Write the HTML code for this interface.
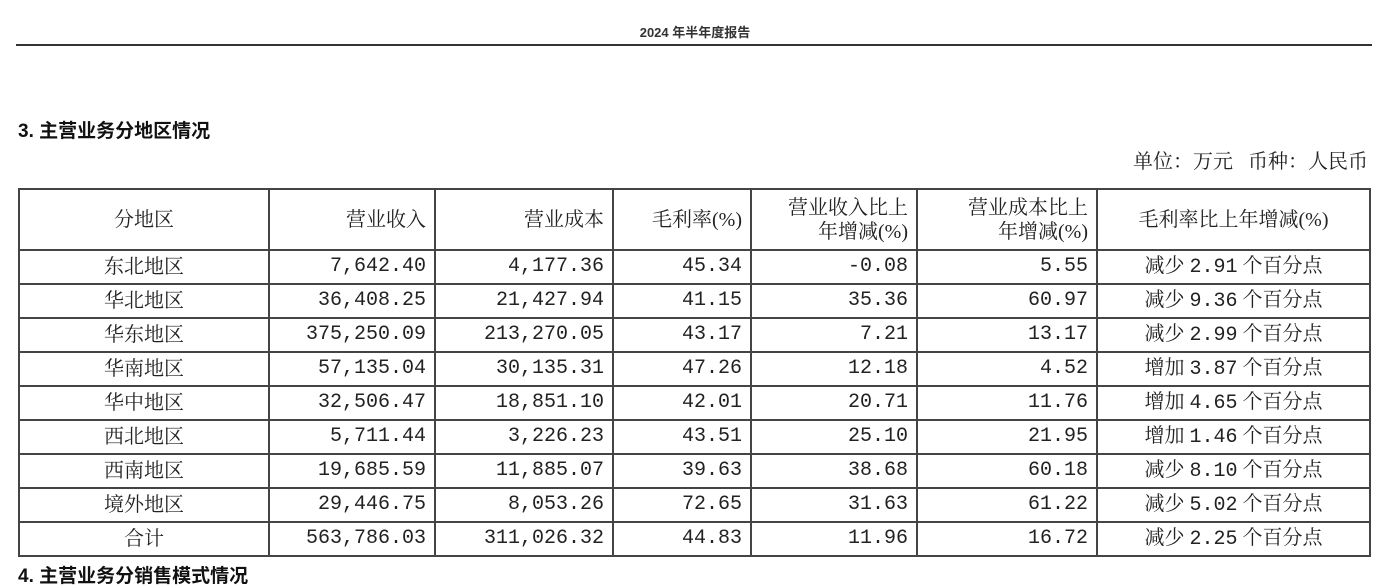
<!DOCTYPE html>
<html><head><meta charset="utf-8"><style>
body{margin:0;width:1399px;height:572px;overflow:hidden;background:#fff;position:relative;font-family:"Liberation Serif","Noto Serif CJK SC",serif;color:#222}
.hd{position:absolute;top:22px;left:0;width:1390px;text-align:center;font:bold 13px "Liberation Sans","Noto Sans CJK SC",sans-serif;color:#333}
.rule{position:absolute;left:16px;top:44px;width:1356px;height:2px;background:#333}
.sec{position:absolute;left:18px;top:116px;font:bold 19px "Liberation Sans","Noto Sans CJK SC",sans-serif;color:#111}
.sec2{position:absolute;left:18px;top:561px;font:bold 19px "Liberation Sans","Noto Sans CJK SC",sans-serif;color:#111}
.unit{position:absolute;right:31px;top:145px;font-size:20px}
table{position:absolute;left:18px;top:188px;border-collapse:collapse;table-layout:fixed}
td{border:2px solid #444;font-size:20px;padding:0 8px;height:32px;white-space:nowrap;line-height:24px}
td.n{text-align:right;font-family:"Liberation Mono","Noto Serif CJK SC",monospace;font-size:20px}
td.c{text-align:center}
tr.h td{height:59px;font-size:20px}
.m{font-family:"Liberation Mono",monospace}
</style></head><body>
<div class="hd">2024 年半年度报告</div>
<div class="rule"></div>
<div class="sec">3. 主营业务分地区情况</div>
<div class="unit">单位：万元&nbsp;&nbsp;&nbsp;币种：人民币</div>
<table>
<colgroup><col style="width:250px"><col style="width:166px"><col style="width:178px"><col style="width:138px"><col style="width:166px"><col style="width:180px"><col style="width:273px"></colgroup>
<tr class="h"><td class="c">分地区</td><td style="text-align:right">营业收入</td><td style="text-align:right">营业成本</td><td style="text-align:right">毛利率(%)</td><td style="text-align:right">营业收入比上<br>年增减(%)</td><td style="text-align:right">营业成本比上<br>年增减(%)</td><td class="c">毛利率比上年增减(%)</td></tr>
<tr><td class="c">东北地区</td><td class="n">7,642.40</td><td class="n">4,177.36</td><td class="n">45.34</td><td class="n">-0.08</td><td class="n">5.55</td><td class="c">减少 <span class="m">2.91</span> 个百分点</td></tr>
<tr><td class="c">华北地区</td><td class="n">36,408.25</td><td class="n">21,427.94</td><td class="n">41.15</td><td class="n">35.36</td><td class="n">60.97</td><td class="c">减少 <span class="m">9.36</span> 个百分点</td></tr>
<tr><td class="c">华东地区</td><td class="n">375,250.09</td><td class="n">213,270.05</td><td class="n">43.17</td><td class="n">7.21</td><td class="n">13.17</td><td class="c">减少 <span class="m">2.99</span> 个百分点</td></tr>
<tr><td class="c">华南地区</td><td class="n">57,135.04</td><td class="n">30,135.31</td><td class="n">47.26</td><td class="n">12.18</td><td class="n">4.52</td><td class="c">增加 <span class="m">3.87</span> 个百分点</td></tr>
<tr><td class="c">华中地区</td><td class="n">32,506.47</td><td class="n">18,851.10</td><td class="n">42.01</td><td class="n">20.71</td><td class="n">11.76</td><td class="c">增加 <span class="m">4.65</span> 个百分点</td></tr>
<tr><td class="c">西北地区</td><td class="n">5,711.44</td><td class="n">3,226.23</td><td class="n">43.51</td><td class="n">25.10</td><td class="n">21.95</td><td class="c">增加 <span class="m">1.46</span> 个百分点</td></tr>
<tr><td class="c">西南地区</td><td class="n">19,685.59</td><td class="n">11,885.07</td><td class="n">39.63</td><td class="n">38.68</td><td class="n">60.18</td><td class="c">减少 <span class="m">8.10</span> 个百分点</td></tr>
<tr><td class="c">境外地区</td><td class="n">29,446.75</td><td class="n">8,053.26</td><td class="n">72.65</td><td class="n">31.63</td><td class="n">61.22</td><td class="c">减少 <span class="m">5.02</span> 个百分点</td></tr>
<tr><td class="c">合计</td><td class="n">563,786.03</td><td class="n">311,026.32</td><td class="n">44.83</td><td class="n">11.96</td><td class="n">16.72</td><td class="c">减少 <span class="m">2.25</span> 个百分点</td></tr>
</table>
<div class="sec2">4. 主营业务分销售模式情况</div>
</body></html>
